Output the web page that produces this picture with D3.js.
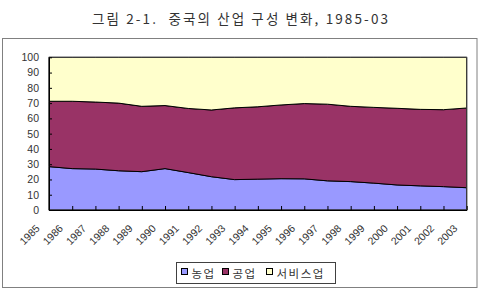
<!DOCTYPE html>
<html>
    <head>
        <meta charset="utf-8">
        <style>
            body { margin: 0; background: white; }
            .cadre { fill: white; stroke: #808080; stroke-width: 1; }
            .zone_border { fill: none; stroke: #404040; stroke-width: 1; }
            .couche { stroke: black; stroke-width: 1; }
            .tick text { font-family: "Liberation Sans", Arial, sans-serif; font-size: 10.5px; fill: #333; }
            .titre { font-family: "Noto Sans CJK KR", sans-serif; font-size: 13.5px; fill: #333; white-space: pre; }
            .legende text { font-family: "Noto Sans CJK KR", sans-serif; font-size: 11.5px; fill: #333; letter-spacing: 1.5px; }
        </style>
    </head>
    <body>
        <div id="plateau"></div>
        <script src="https://cdn.jsdelivr.net/npm/d3@7"></script>
        <script>

//////////////////// donnees ////////////////////
let annees = [1985, 1986, 1987, 1988, 1989, 1990, 1991, 1992, 1993, 1994,
              1995, 1996, 1997, 1998, 1999, 2000, 2001, 2002, 2003];
let nongeop = [28.4, 27.1, 26.8, 25.7, 25.1, 27.1, 24.5, 21.8, 19.9, 20.2,
               20.5, 20.4, 19.1, 18.6, 17.6, 16.4, 15.8, 15.3, 14.6];
let gongeop = [42.8, 44.1, 43.9, 44.3, 42.8, 41.3, 42.0, 43.7, 47.0, 47.4,
               48.3, 49.3, 50.2, 49.3, 49.6, 50.2, 50.1, 50.4, 52.2];
let service = [28.8, 28.8, 29.3, 30.0, 32.1, 31.6, 33.5, 34.5, 33.1, 32.4,
               31.2, 30.3, 30.7, 32.1, 32.8, 33.4, 34.1, 34.3, 33.2];
let series = ['농업', '공업', '서비스업'];
let couleurs = ['#9999ff', '#993366', '#ffffcc'];
let y_ticks = [0, 10, 20, 30, 40, 50, 60, 70, 80, 90, 100];
let titre = '그림 2-1.  중국의 산업 구성 변화, 1985-03';

//////////////////// position ////////////////////
let W = 481, H = 289;
let zone = {left: 49, right: 466.7, top: 57.3, bottom: 210};

let svg = d3.select('#plateau').append('svg')
    .attr('width', W)
    .attr('height', H);

svg.append('text')
    .classed('titre', true)
    .attr('x', 92)
    .attr('y', 24)
    .attr('textLength', 296)
    .attr('lengthAdjust', 'spacing')
    .text(titre);

svg.append('rect')
    .classed('cadre', true)
    .attr('x', 2.5).attr('y', 38.5)
    .attr('width', 474.5).attr('height', 249);

let table = annees.map((a, i) => ({annee: a, '농업': nongeop[i], '공업': gongeop[i], '서비스업': service[i]}));

let x = d3.scalePoint().domain(annees).range([zone.left, zone.right]);
let y = d3.scaleLinear().domain([0, 100]).range([zone.bottom, zone.top]);

let pile = d3.stack().keys(series)(table);
let aire = d3.area()
    .x(d => x(d.data.annee))
    .y0(d => y(d[0]))
    .y1(d => y(d[1]));

svg.append('g').selectAll('path')
    .data(pile)
    .join('path')
    .classed('couche', true)
    .attr('fill', (d, i) => couleurs[i])
    .attr('d', aire);

svg.append('rect')
    .classed('zone_border', true)
    .attr('x', zone.left).attr('y', zone.top)
    .attr('width', zone.right - zone.left).attr('height', zone.bottom - zone.top);

// axe y
let axe_y = svg.append('g')
    .attr('transform', `translate(${zone.left}, 0)`)
    .call(d3.axisLeft(y).tickValues(y_ticks).tickSizeInner(-3).tickSizeOuter(0).tickPadding(10));
axe_y.select('.domain').attr('stroke', 'black');
axe_y.selectAll('.tick line').attr('stroke', 'black');

// axe x
let axe_x = svg.append('g')
    .attr('transform', `translate(0, ${zone.bottom})`)
    .call(d3.axisBottom(x).tickSizeInner(-4).tickSizeOuter(0));
axe_x.select('.domain').attr('stroke', 'black');
axe_x.selectAll('.tick line').attr('stroke', 'black');
axe_x.selectAll('.tick text')
    .attr('x', 0).attr('y', 0).attr('dy', null)
    .attr('text-anchor', 'end')
    .attr('transform', 'translate(-9, 19) rotate(-45)');

// legende
let legende = svg.append('g').classed('legende', true);
legende.append('rect')
    .attr('x', 176.5).attr('y', 262.5)
    .attr('width', 159).attr('height', 21)
    .attr('fill', 'white').attr('stroke', '#404040');
let pos_legende = [181.5, 222.5, 266.5];
series.forEach((s, i) => {
    legende.append('rect')
        .attr('x', pos_legende[i]).attr('y', 268.5)
        .attr('width', 6).attr('height', 6)
        .attr('fill', couleurs[i]).attr('stroke', 'black');
    legende.append('text')
        .attr('x', pos_legende[i] + 10).attr('y', 277.5)
        .text(s);
});

        </script>
    </body>
</html>
